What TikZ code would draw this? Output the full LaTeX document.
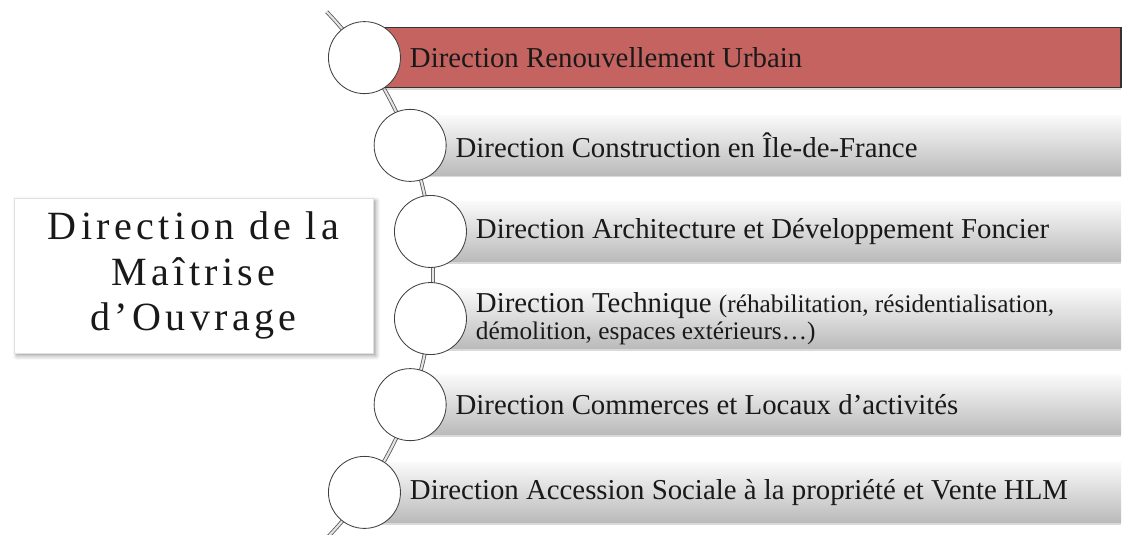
\documentclass[tikz,border=0pt]{standalone}
\usepackage{fontspec}
\setmainfont{Liberation Serif}
\newfontfamily\spacedserif[LetterSpace=11]{Liberation Serif}
\usetikzlibrary{positioning,calc,shadows,shadows.blur}
\definecolor{urbred}{RGB}{197,99,96}
\tikzstyle{ring}=[circle,draw=black!75,fill=white,line width=0.6pt,minimum size=1.8cm,inner sep=0pt]

\begin{document}
\begin{tikzpicture}[x=0.025cm,y=-0.025cm]
    \tikzstyle{spine}=[draw=black!65,line width=0.6pt,double=black!10,double distance=1.5pt]
    \tikzstyle{bar}=[top color=black!2,bottom color=black!27,drop shadow={shadow xshift=0pt,shadow yshift=-1.5pt,opacity=0.3}]
    \tikzstyle{hotbar}=[fill=urbred,draw=black!80,line width=0.8pt,drop shadow={shadow xshift=0pt,shadow yshift=-1.5pt,opacity=0.3}]
    \tikzstyle{lbl}=[inner sep=0pt,text=black!90,font=\fontsize{20.5pt}{19pt}\selectfont,align=left]
    \tikzstyle{titlebox}=[fill=white,draw=black!12,minimum width=8.975cm,minimum height=3.875cm,align=center,
        font=\spacedserif\fontsize{28.5pt}{32.5pt}\selectfont,text=black!90,
        blur shadow={shadow xshift=2pt,shadow yshift=-2pt,shadow blur radius=3pt,shadow opacity=40}]
    \useasboundingbox (0,0) rectangle (1122,534);
    \coordinate (o) at (54,275);
    \coordinate (r) at (1121,0);
    \coordinate (top) at ([shift={(-44:379)}]o);
    \draw[spine] (top) arc[start angle=-44,end angle=44,radius=379];
    \foreach \a [count=\i] in {-35,-20,-6.6,6.6,20,35}
        \coordinate (p\i) at ([shift={(\a:379)}]o);
    % bars behind the rings
    \foreach \i in {2,...,6}
        \path[bar] ($(p\i)+(0,-30)$) rectangle ($(p\i -| r)+(0,30)$);
    \path[hotbar] ($(p1)+(0,-30)$) rectangle ($(p1 -| r)+(0,30)$);
    \foreach \i in {1,...,6}
        \node[ring] (c\i) at (p\i) {};
    \node[lbl,right=2.2mm of c1] (t1) {Direction Renouvellement Urbain};
    \node[lbl,right=2.2mm of c2] (t2) {Direction Construction en Île-de-France};
    \node[lbl,right=2.2mm of c3] (t3) {Direction Architecture et Développement Foncier};
    \node[lbl,right=2.2mm of c4] (t4) {Direction Technique {\fontsize{18pt}{19pt}\selectfont(réhabilitation, résidentialisation,}\\
        {\fontsize{18pt}{19pt}\selectfont démolition, espaces extérieurs…)}};
    \node[lbl,right=2.2mm of c5] (t5) {Direction Commerces et Locaux d’activités};
    \node[lbl,right=2.2mm of c6] (t6) {Direction Accession Sociale à la propriété et Vente HLM};
    \node[titlebox] (dmo) at (193.5,275.5) {Direction de la\\Maîtrise\\d’Ouvrage};
\end{tikzpicture}
\end{document}
